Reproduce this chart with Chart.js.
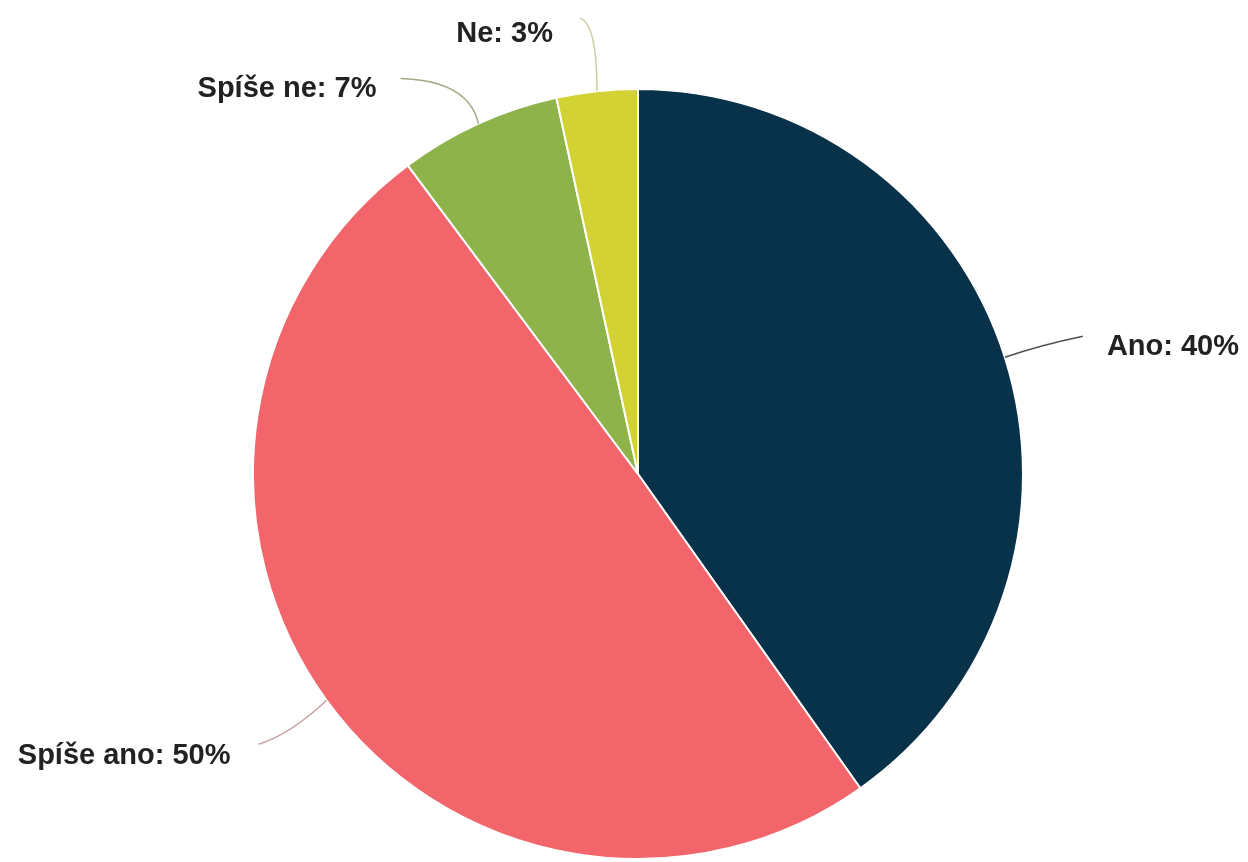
<!DOCTYPE html>
<html>
<head>
<meta charset="utf-8">
<script src="https://cdn.jsdelivr.net/npm/chart.js@4"></script>
<style>
  html, body { margin: 0; padding: 0; background: #fff; }
  #wrap { width: 1248px; height: 862px; }
</style>
</head>
<body>
<div id="wrap"><canvas id="pie"></canvas></div>
<script>
const LABELS = ['Ano', 'Spíše ano', 'Spíše ne', 'Ne']
const VALUES = [40.2, 49.6, 6.8, 3.4]
const COLORS = ['#08314a', '#f2666b', '#8db34a', '#d3d234']
const LINE_COLORS = ['#4a4f55', '#c9a0a2', '#a3a986', '#cfcd9a']

// leader line: control point + end point relative to slice anchor, then text offset from end
const callouts = [
  { c: [35, -12], e: [78, -21], t: [24, 11], align: 'left' },
  { c: [-36, 34], e: [-68, 44], t: [-28, 12], align: 'right' },
  { c: [-10, -43], e: [-78, -45], t: [-24, 10], align: 'right' },
  { c: [0, -68], e: [-17, -73], t: [-27, 16], align: 'right' },
]

const calloutPlugin = {
  id: 'callouts',
  afterDatasetsDraw(chart) {
    const ctx = chart.ctx
    const meta = chart.getDatasetMeta(0)
    meta.data.forEach((arc, i) => {
      const mid = (arc.startAngle + arc.endAngle) / 2
      const ax = arc.x + Math.cos(mid) * arc.outerRadius
      const ay = arc.y + Math.sin(mid) * arc.outerRadius
      const co = callouts[i]
      const ex = ax + co.e[0], ey = ay + co.e[1]
      ctx.save()
      ctx.strokeStyle = LINE_COLORS[i]
      ctx.lineWidth = 1.5
      ctx.beginPath()
      ctx.moveTo(ax, ay)
      ctx.quadraticCurveTo(ax + co.c[0], ay + co.c[1], ex, ey)
      ctx.stroke()
      ctx.fillStyle = '#222'
      ctx.font = 'bold 29px "Liberation Sans", Arial, sans-serif'
      ctx.textAlign = co.align
      ctx.textBaseline = 'middle'
      ctx.fillText(LABELS[i] + ': ' + Math.round(VALUES[i]) + '%', ex + co.t[0], ey + co.t[1])
      ctx.restore()
    })
  }
}

const pie = new Chart(document.getElementById('pie'), {
  type: 'pie',
  data: {
    labels: LABELS,
    datasets: [{
      data: VALUES,
      backgroundColor: COLORS,
      borderColor: '#fff',
      borderWidth: 2,
    }]
  },
  options: {
    responsive: true,
    maintainAspectRatio: false,
    animation: false,
    layout: {
      padding: { top: 88, bottom: 2, left: 28, right: 0 },
    },
    plugins: {
      legend: { display: false },
      tooltip: { enabled: false },
    },
  },
  plugins: [calloutPlugin],
})
</script>
</body>
</html>
